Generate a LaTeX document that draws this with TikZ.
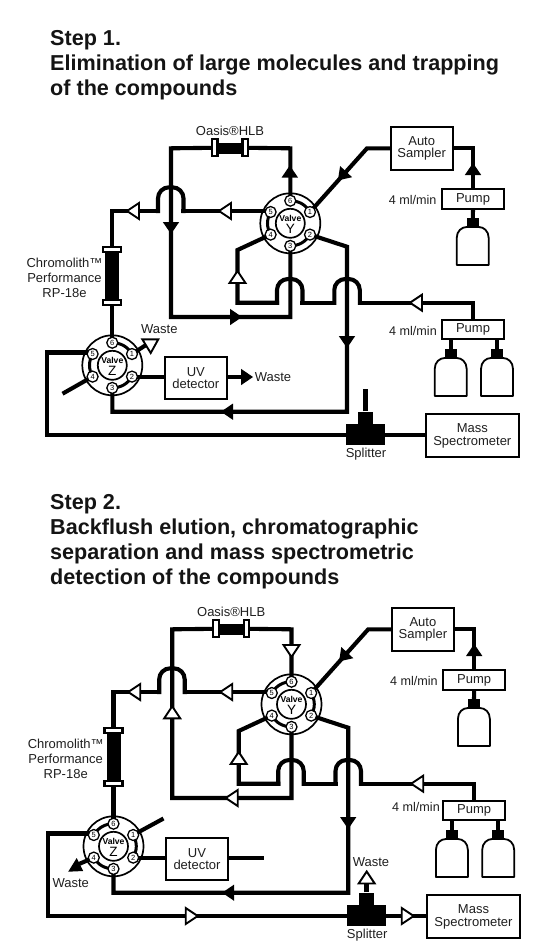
\documentclass[tikz,border=0pt]{standalone}
\usepackage{fontspec}
\setmainfont{Liberation Sans}
\pgfdeclarelayer{pipes}
\pgfsetlayers{pipes,main}
\tikzset{
  x=1pt,y=-1pt,
  pipe/.style={line width=4.1pt,line cap=rect,line join=miter},
  link/.style={line width=3pt,line cap=round},
  label/.style={font=\fontsize{13}{12.8}\selectfont,align=center,inner sep=0pt,text=black!88},
  ratelabel/.style={font=\fontsize{12.6}{12.8}\selectfont,inner sep=0pt,text=black!88},
  titletext/.style={font=\fontsize{21.6}{25}\selectfont\bfseries,align=left,anchor=north west,inner sep=0pt,text=black!92},
  boxnode/.style={draw,line width=1.8pt,fill=white,inner sep=0pt,align=center,font=\fontsize{13}{12.8}\selectfont,text=black!88},
  solid box/.style={fill=black,draw=none,inner sep=0pt},
  capnode/.style={draw,line width=2.2pt,fill=white,inner sep=0pt},
  ring/.style={circle,draw,line width=1.7pt,minimum size=60pt,inner sep=0pt},
  hub/.style={circle,draw,line width=1.7pt,fill=white,minimum size=29pt,inner sep=0pt},
  portnode/.style={circle,draw,line width=1.3pt,fill=white,minimum size=11pt,inner sep=0pt,font=\fontsize{7.5}{7.5}\selectfont,text=black},
  whitehead/.style={draw=black,line width=1.9pt,fill=white,line join=miter},
  blackhead/.style={fill=black},
  bottleline/.style={line width=1.8pt,fill=white,line join=round},
}
\newcommand\valvecoords[3]{%
  \coordinate (#1c) at (#2,#3);
  \coordinate (#1p1) at (#2+19.7,#3-11.3);
  \coordinate (#1p2) at (#2+19.7,#3+11.3);
  \coordinate (#1p3) at (#2,#3+22.6);
  \coordinate (#1p4) at (#2-19.7,#3+11.3);
  \coordinate (#1p5) at (#2-19.7,#3-11.3);
  \coordinate (#1p6) at (#2,#3-22.6);
}
\newcommand\valvebody[2]{%
  \node[ring] (#1ring) at (#1c) {};
  \node[hub] (#1hub) at (#1c) {};
  \node[font=\fontsize{8.6}{8.6}\selectfont\bfseries,inner sep=0pt] (#1word) at ([yshift=4.6pt]#1c) {Valve};
  \node[font=\fontsize{13.5}{13.5}\selectfont,inner sep=0pt] (#1letter) at ([yshift=-5.6pt]#1c) {#2};
}
\newcommand\valveports[1]{%
  \foreach \n in {1,...,6}{\node[portnode] (#1n\n) at (#1p\n) {\n};}
}
\newcommand\vlink[3]{\draw[link] (#1p#2) to[bend left=28] (#1p#3);}
\newcommand\head[4]{%
  \ifnum#1=0
    \path[whitehead,shift={(#2,#3)},rotate=#4] (6,0) -- (-6,8) -- (-6,-8) -- cycle;
  \else
    \path[blackhead,shift={(#2,#3)},rotate=#4] (6,0) -- (-6,8.2) -- (-6,-8.2) -- cycle;
  \fi
}
\newcommand\arch[2]{\draw[pipe,rounded corners=11pt] (#2) -- ++(0,-23.7) -- ++(-25.5,0) -- (#1);}
\newcommand\bottle[3]{%
  \node[solid box,minimum width=12pt,minimum height=9.5pt] (#1) at (#2,#3-4.7) {};
  \draw[bottleline] (#2-16,#3+38) -- (#2-16,#3+11) .. controls (#2-16,#3+4) and (#2-11,#3) .. (#2-6,#3)
     -- (#2+6,#3) .. controls (#2+11,#3) and (#2+16,#3+4) .. (#2+16,#3+11) -- (#2+16,#3+38) -- cycle;
}
\newcommand\commonpart{%
  \valvecoords{Y}{290.3}{223.3}
  \valvecoords{Z}{112.3}{365.3}
  \coordinate (c1) at (171,148.3);
  \coordinate (c2) at (171,317);
  \coordinate (c3) at (290.3,317);
  \coordinate (c4) at (290.3,148.3);
  \coordinate (a1l) at (158,211);
  \coordinate (a1r) at (183.5,211);
  \coordinate (c5) at (112.3,211);
  \coordinate (c6) at (237.5,250);
  \coordinate (c7) at (237.5,302.7);
  \coordinate (a2l) at (277,302.7);
  \coordinate (a2r) at (302.5,302.7);
  \coordinate (a3l) at (334.3,302.7);
  \coordinate (a3r) at (359.8,302.7);
  \coordinate (c8) at (473,302.7);
  \coordinate (c9) at (347,246.7);
  \coordinate (c10) at (347,411.7);
  \coordinate (c11) at (112.3,411.7);
  \coordinate (c12) at (367,148.3);
  \coordinate (c13) at (47,352.5);
  \coordinate (c14) at (47,435);
  \node[boxnode,minimum width=62pt,minimum height=43pt] (as) at (421.7,148.3) {Auto\\Sampler};
  \node[boxnode,minimum width=62pt,minimum height=19.4pt] (pa) at (473,199) {Pump};
  \node[boxnode,minimum width=62pt,minimum height=19.4pt] (pb) at (473,329.4) {Pump};
  \node[boxnode,minimum width=61.7pt,minimum height=42.6pt] (uv) at (195.8,378) {UV\\detector};
  \node[boxnode,minimum width=93pt,minimum height=43pt] (ms) at (472.3,435.5) {Mass\\Spectrometer};
  \node[ratelabel] (l4a) at (412.7,200) {4 ml/min};
  \node[label] (oasl) at (230,130.7) {Oasis®HLB};
  \node[label] (chl) at (64.5,278) {Chromolith™\\[2.4pt]Performance\\[2.4pt]RP-18e};
  \node[label] (spl) at (366,454) {Splitter};
  \node[solid box,minimum width=26pt,minimum height=11.5pt] (ob) at (230,148.5) {};
  \node[capnode,minimum width=5.5pt,minimum height=17pt] (oa) at (214.7,147.8) {};
  \node[capnode,minimum width=5.5pt,minimum height=17pt] (oc) at (245.3,147.8) {};
  \node[solid box,minimum width=14pt,minimum height=48pt] (cm) at (112.3,276) {};
  \node[capnode,minimum width=18pt,minimum height=5pt] (ca) at (112.3,249.5) {};
  \node[capnode,minimum width=18pt,minimum height=5pt] (cb) at (112.3,302.5) {};
  \node[solid box,minimum width=39pt,minimum height=21pt] (split) at (365.5,434.5) {};
  \node[solid box,minimum width=15pt,minimum height=13pt] (splitb) at (365.5,418) {};
  \bottle{ba}{472.7}{227}
  \bottle{bb}{450.7}{358}
  \bottle{bc}{497}{358}
  \begin{pgfonlayer}{pipes}
    \draw[pipe] (oa) -- (c1) -- (c2) -- (c3) -- (Yp3);
    \draw[pipe] (oc) -- (c4) -- (Yp6);
    \draw[pipe] (Yp5 |- a1r) -- (a1r);
    \arch{a1l}{a1r}
    \draw[pipe] (a1l) -- (c5) -- (ca);
    \draw[pipe] (cb) -- (Zp6);
    \draw[pipe] (Yp4) -- (c6) -- (c7) -- (a2l);
    \arch{a2l}{a2r}
    \draw[pipe] (a2r) -- (a3l);
    \arch{a3l}{a3r}
    \draw[pipe] (a3r) -- (c8) -- (pb.north);
    \draw[pipe] (Yp2) -- (c9) -- (c10) -- (c11) -- (Zp3);
    \draw[pipe] (Yp1) -- (c12) -- (as.west);
    \draw[pipe] (as.east) -| (pa.north);
    \draw[pipe] (Zp5 |- c13) -- (c13) -- (c14) -- (split.center |- c14) -- (ms.west |- c14);
    \draw[pipe] (Zp2) -- (uv.west |- Zp2);
    \draw[pipe] (pa.south) -- (ba);
    \draw[pipe] (pb.south -| bb) -- (bb);
    \draw[pipe] (pb.south -| bc) -- (bc);
  \end{pgfonlayer}
  \valvebody{Y}{Y}
  \valvebody{Z}{Z}
  \head{0}{225}{211}{180}
  \head{0}{133}{211}{180}
  \head{0}{237.5}{277}{90}
  \head{0}{416}{302.7}{180}
  \head{1}{342}{176}{-133}
  \head{1}{473}{169}{90}
  \head{1}{347}{342}{-90}
  \head{1}{227}{411.7}{180}
}
\begin{document}
\begin{tikzpicture}
\useasboundingbox (0,0) rectangle (541,943);
\node[titletext] (t1) at (50,30) {Step 1.\\Elimination of large molecules and trapping\\of the compounds};
\node[titletext] (t2) at (50,494) {Step 2.\\Backflush elution, chromatographic\\separation and mass spectrometric\\detection of the compounds};

\begin{scope}[name prefix=s1-]
  \commonpart
  \coordinate (e1) at (64.3,392.7);
  \coordinate (e2) at (146,345);
  \coordinate (e3) at (247,377);
  \coordinate (e4) at (365.5,389);
  \begin{pgfonlayer}{pipes}
    \draw[pipe] (Zp4) -- (e1);
    \draw[pipe] (Zp1) -- (e2);
    \draw[pipe] (uv.east |- e3) -- (e3);
    \draw[line width=4.5pt] (splitb.north) -- (e4);
  \end{pgfonlayer}
  \vlink{Y}{6}{1}\vlink{Y}{2}{3}\vlink{Y}{4}{5}
  \vlink{Z}{6}{1}\vlink{Z}{2}{3}\vlink{Z}{4}{5}
  \valveports{Y}\valveports{Z}
  \head{1}{289.8}{171.5}{90}
  \head{1}{171}{228}{-90}
  \head{1}{236}{317}{0}
  \head{1}{247}{377}{0}
  \path[whitehead] (142.3,339.3) -- (158.3,339.3) -- (150.7,353) -- cycle;
  \node[label] (w1) at (159.3,329) {Waste};
  \node[label] (w2) at (273,377) {Waste};
  \node[ratelabel] (l4b) at (413,331) {4 ml/min};
\end{scope}

\begin{scope}[shift={(1.2,481)},name prefix=s2-]
  \commonpart
  \coordinate (e1) at (75.5,384);
  \coordinate (e2) at (160.5,338.5);
  \coordinate (e3) at (261,377);
  \coordinate (e4) at (365.5,395);
  \begin{pgfonlayer}{pipes}
    \draw[pipe] (Zp4) -- (e1);
    \draw[pipe] (Zp1) -- (e2);
    \draw[pipe] (uv.east |- e3) -- (e3);
    \draw[line width=4.5pt] (splitb.north) -- (e4);
  \end{pgfonlayer}
  \vlink{Y}{5}{6}\vlink{Y}{1}{2}\vlink{Y}{3}{4}
  \vlink{Z}{5}{6}\vlink{Z}{1}{2}\vlink{Z}{3}{4}
  \valveports{Y}\valveports{Z}
  \head{0}{290.3}{170}{-90}
  \head{0}{171}{231.3}{90}
  \head{0}{230.5}{317}{180}
  \head{0}{190.5}{435}{0}
  \head{0}{406.5}{435}{0}
  \head{0}{365.5}{396.5}{90}
  \path[blackhead] (67,390.7) -- (82,390) -- (75.5,377) -- cycle;
  \node[label] (w1) at (69.5,401.7) {Waste};
  \node[label] (w2) at (369.8,380.7) {Waste};
  \node[ratelabel] (l4b) at (414.8,325.7) {4 ml/min};
\end{scope}
\end{tikzpicture}
\end{document}
